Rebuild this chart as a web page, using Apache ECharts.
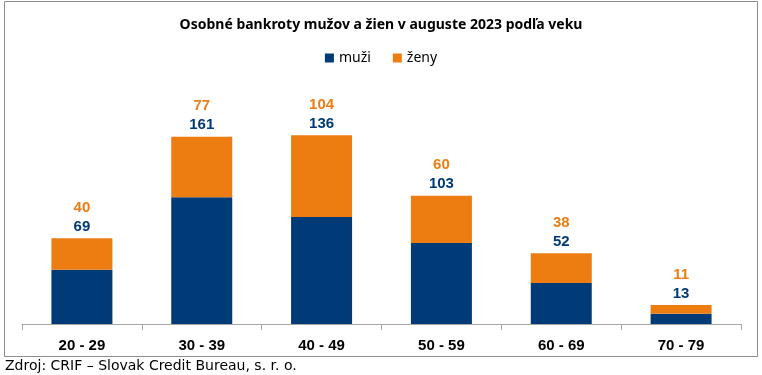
<!DOCTYPE html>
<html>
<head>
<meta charset="utf-8">
<script src="https://cdn.jsdelivr.net/npm/echarts@6/dist/echarts.min.js"></script>
<style>
  html, body { margin: 0; padding: 0; background: #fff; }
  #chart { width: 762px; height: 375px; }
</style>
</head>
<body>
<div id="chart"></div>
<script>
const categories = ['20 - 29', '30 - 39', '40 - 49', '50 - 59', '60 - 69', '70 - 79']
const muzi = [69, 161, 136, 103, 52, 13]
const zeny = [40, 77, 104, 60, 38, 11]

const BLUE = '#003b78'
const ORANGE = '#ee7d11'
const LABEL_FONT = 'Liberation Sans'

const chart = echarts.init(document.getElementById('chart'))

chart.setOption({
  animation: false,
  title: {
    text: 'Osobné bankroty mužov a žien v auguste 2023 podľa veku',
    left: 'center',
    top: 13,
    textStyle: { fontFamily: 'Noto Sans', fontSize: 14, fontWeight: 'bold', color: '#000' },
  },
  legend: {
    top: 46,
    left: 'center',
    itemWidth: 9,
    itemHeight: 9,
    itemGap: 22,
    icon: 'rect',
    textStyle: { fontFamily: 'Noto Sans', fontSize: 14, color: '#000' },
    data: ['muži', 'ženy'],
  },
  graphic: [
    {
      type: 'rect',
      shape: { x: 4.5, y: 1.5, width: 753, height: 355 },
      style: { fill: null, stroke: '#8c8c8c', lineWidth: 1 },
      silent: true,
    },
    {
      type: 'text',
      left: 5,
      top: 359,
      style: {
        text: 'Zdroj: CRIF – Slovak Credit Bureau, s. r. o.',
        font: '14px "DejaVu Sans"',
        fill: '#000',
      },
    },
  ],
  grid: { left: 22, right: 21, top: 88, bottom: 51 },
  xAxis: {
    type: 'category',
    data: categories,
    axisLine: { lineStyle: { color: '#a6a6a6' } },
    axisTick: { show: true, length: 6, lineStyle: { color: '#a6a6a6' } },
    axisLabel: {
      margin: 14,
      fontFamily: LABEL_FONT,
      fontSize: 15,
      fontWeight: 'bold',
      color: '#000',
    },
  },
  yAxis: {
    type: 'value',
    min: 0,
    max: 300,
    show: false,
    splitLine: { show: false },
  },
  series: [
    {
      name: 'muži',
      type: 'bar',
      stack: 'total',
      data: muzi,
      barWidth: 61,
      itemStyle: { color: BLUE },
    },
    {
      name: 'ženy',
      type: 'bar',
      stack: 'total',
      data: zeny,
      barWidth: 61,
      itemStyle: { color: ORANGE },
      label: {
        show: true,
        position: 'top',
        distance: 2,
        formatter: (p) => `{f|${zeny[p.dataIndex]}}\n{m|${muzi[p.dataIndex]}}`,
        rich: {
          f: { color: ORANGE, fontFamily: LABEL_FONT, fontSize: 15, fontWeight: 'bold', lineHeight: 19 },
          m: { color: BLUE, fontFamily: LABEL_FONT, fontSize: 15, fontWeight: 'bold', lineHeight: 19 },
        },
      },
    },
  ],
})
</script>
</body>
</html>
